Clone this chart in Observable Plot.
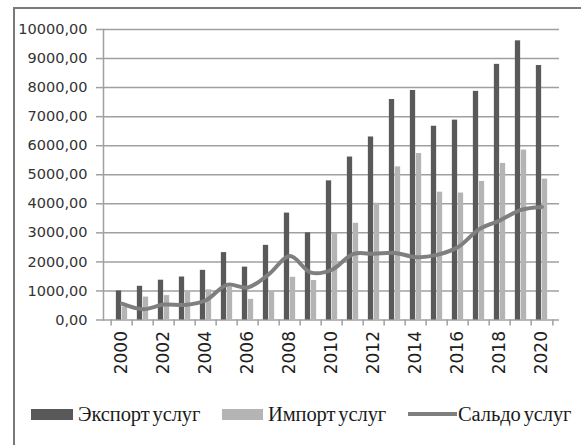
<!DOCTYPE html>
<html>
<head>
<meta charset="utf-8">
<script src="https://cdn.jsdelivr.net/npm/d3@7"></script>
<script src="https://cdn.jsdelivr.net/npm/@observablehq/plot@0.6"></script>
<style>
  html, body { margin: 0; padding: 0; background: #fff; }
  #wrap { position: relative; width: 581px; height: 445px; overflow: hidden; background: #fff; }
  #border { position: absolute; left: 13px; top: 7px; right: -10px; bottom: -10px; border-left: 2px solid #7a7a7a; border-top: 2px solid #7a7a7a; }
  #chart { position: absolute; left: 0; top: 0; }
  .leg { position: absolute; top: 402px; height: 24px; display: flex; align-items: center; font-family: "Liberation Serif", serif; font-size: 20.5px; color: #1a1a1a; letter-spacing: -0.1px; word-spacing: -2px; white-space: nowrap; }
  .sw { display: inline-block; }
</style>
</head>
<body>
<div id="wrap">
  <div id="border"></div>
  <div id="chart"></div>
</div>
<script>
const years = [2000, 2001, 2002, 2003, 2004, 2005, 2006, 2007, 2008, 2009, 2010,
               2011, 2012, 2013, 2014, 2015, 2016, 2017, 2018, 2019, 2020];
const exportServices = [1000, 1160, 1370, 1480, 1710, 2320, 1820, 2570, 3680, 3000, 4790,
                        5610, 6300, 7590, 7900, 6670, 6880, 7870, 8800, 9610, 8760];
const importServices = [450, 790, 840, 980, 1040, 1130, 710, 980, 1470, 1360, 2990,
                        3330, 4020, 5270, 5730, 4400, 4370, 4770, 5390, 5850, 4850];
const saldoServices = [560, 370, 530, 520, 680, 1210, 1120, 1580, 2200, 1630, 1730,
                       2270, 2280, 2310, 2160, 2240, 2510, 3120, 3430, 3790, 3890];
const yTicks = [0, 1000, 2000, 3000, 4000, 5000, 6000, 7000, 8000, 9000, 10000];
const xLabelYears = [2000, 2002, 2004, 2006, 2008, 2010, 2012, 2014, 2016, 2018, 2020];
const seriesNames = ["Экспорт услуг", "Импорт услуг", "Сальдо услуг"];

const data = years.map((y, i) => ({
  year: y, exp: exportServices[i], imp: importServices[i], saldo: saldoServices[i]
}));

const W = 581, H = 395, ML = 103, MR = 22, MT = 29, MB = 75.5;
const bw = (W - ML - MR) / years.length;
const barW = 6;
const outer = (bw - 2 * barW) / 2;

const fmt = d => d.toFixed(2).replace(".", ",");
const gridColor = "#a0a0a0";

const plot = Plot.plot({
  width: W, height: H,
  marginLeft: ML, marginRight: MR, marginTop: MT, marginBottom: MB,
  style: { background: "transparent", overflow: "visible" },
  x: { type: "band", domain: years, padding: 0 },
  y: { domain: [0, 10000] },
  marks: [
    Plot.gridY(yTicks, { stroke: gridColor, strokeOpacity: 1, strokeWidth: 1.5 }),
    Plot.axisY(yTicks, {
      tickSize: 7, tickPadding: 9, stroke: gridColor, strokeWidth: 1.5,
      tickFormat: fmt, fontSize: 14.5, fontFamily: "DejaVu Sans", fill: "#333", label: null
    }),
    Plot.frame({ anchor: "left", stroke: gridColor, strokeWidth: 1.5 }),
    Plot.barY(data, { x: "year", y: "exp", fill: "#595959", insetLeft: outer, insetRight: outer + barW }),
    Plot.barY(data, { x: "year", y: "imp", fill: "#b4b4b4", insetLeft: outer + barW, insetRight: outer }),
    Plot.line(data, { x: "year", y: "saldo", stroke: "#7f7f7f", strokeWidth: 4, curve: "catmull-rom" }),
    Plot.axisX(years, { tickSize: 6, dx: -bw / 2, stroke: gridColor, strokeWidth: 1.5, tickFormat: () => "", label: null }),
    Plot.axisX([2020], { tickSize: 6, dx: bw / 2, stroke: gridColor, strokeWidth: 1.5, tickFormat: () => "", label: null }),
    Plot.axisX(xLabelYears, {
      tickSize: 0, tickPadding: 11, tickRotate: -90, tickFormat: d => String(d),
      fontSize: 17, fontFamily: "DejaVu Sans", fill: "#1e1e1e", label: null
    })
  ]
});
document.getElementById("chart").appendChild(plot);

// legend (HTML, below the plot area)
const legendItems = [
  { name: seriesNames[0], left: 31, sw: { w: 42, h: 11, bg: "#595959" } },
  { name: seriesNames[1], left: 222, sw: { w: 41, h: 11, bg: "#b4b4b4" } },
  { name: seriesNames[2], left: 408, sw: { w: 49, h: 4, bg: "#7f7f7f" } }
];
const wrap = document.getElementById("wrap");
legendItems.forEach(it => {
  const d = document.createElement("div");
  d.className = "leg";
  d.style.left = it.left + "px";
  const s = document.createElement("span");
  s.className = "sw";
  s.style.width = it.sw.w + "px";
  s.style.height = it.sw.h + "px";
  s.style.background = it.sw.bg;
  s.style.marginRight = it.sw.h > 5 ? "5px" : "1px";
  const t = document.createElement("span");
  t.textContent = it.name;
  d.appendChild(s);
  d.appendChild(t);
  wrap.appendChild(d);
});
</script>
</body>
</html>
